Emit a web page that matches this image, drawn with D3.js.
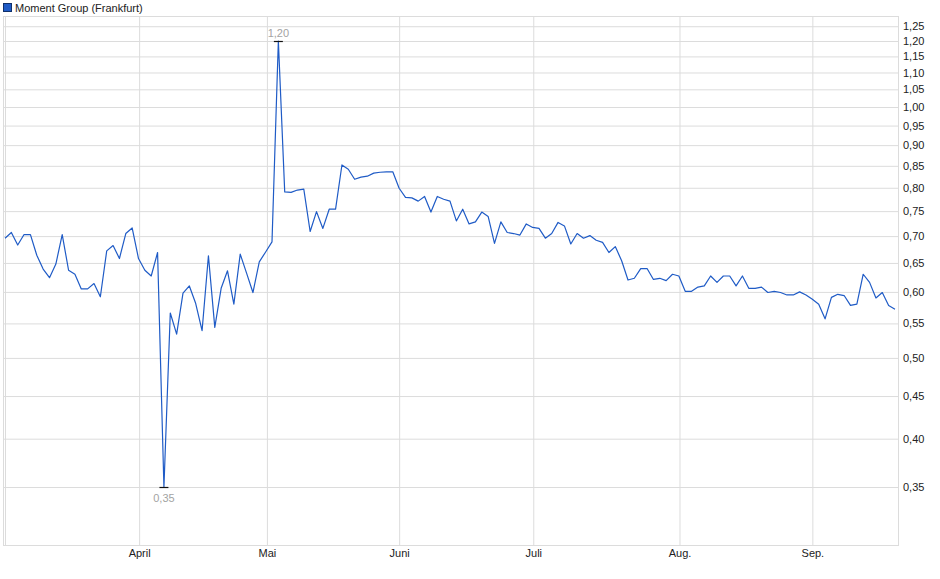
<!DOCTYPE html>
<html>
<head>
<meta charset="utf-8">
<script src="https://cdn.jsdelivr.net/npm/d3@7"></script>
<style>
  body { margin: 0; background: #fff; }
  text { font-family: "Liberation Sans", Arial, sans-serif; font-size: 11px; }
</style>
</head>
<body>
<svg id="chart" width="940" height="579"></svg>
<script>
const title = "Moment Group (Frankfurt)";

// closing prices, one per trading day
const prices = [
  0.696, 0.707, 0.683, 0.703, 0.703, 0.664, 0.639, 0.624, 0.648, 0.703,
  0.637, 0.630, 0.605, 0.605, 0.614, 0.592, 0.672, 0.682, 0.658, 0.705,
  0.716, 0.658, 0.637, 0.627, 0.669, 0.350, 0.566, 0.534, 0.598, 0.610,
  0.581, 0.539, 0.663, 0.544, 0.606, 0.636, 0.580, 0.666, 0.632, 0.599,
  0.652, 0.670, 0.689, 1.200, 0.791, 0.790, 0.795, 0.797, 0.709, 0.749,
  0.715, 0.754, 0.754, 0.852, 0.842, 0.819, 0.824, 0.826, 0.833, 0.835,
  0.836, 0.836, 0.799, 0.779, 0.778, 0.771, 0.781, 0.748, 0.781, 0.775,
  0.771, 0.730, 0.754, 0.724, 0.728, 0.748, 0.739, 0.686, 0.728, 0.707,
  0.705, 0.702, 0.724, 0.717, 0.715, 0.696, 0.705, 0.727, 0.720, 0.685,
  0.705, 0.696, 0.701, 0.692, 0.688, 0.669, 0.680, 0.654, 0.620, 0.623,
  0.640, 0.640, 0.621, 0.623, 0.619, 0.630, 0.627, 0.601, 0.601, 0.608,
  0.610, 0.627, 0.616, 0.627, 0.627, 0.610, 0.627, 0.606, 0.606, 0.608,
  0.599, 0.601, 0.599, 0.595, 0.595, 0.600, 0.595, 0.588, 0.580, 0.557,
  0.591, 0.596, 0.594, 0.578, 0.580, 0.630, 0.616, 0.590, 0.599, 0.578,
  0.572
];

// month starts, as position in trading-day index
const monthLabels = ["April", "Mai", "Juni", "Juli", "Aug.", "Sep."];
const monthPos = [21.1, 41.2, 62.0, 83.1, 106.1, 127.0];

const yTicks = [0.35, 0.40, 0.45, 0.50, 0.55, 0.60, 0.65, 0.70, 0.75, 0.80,
  0.85, 0.90, 0.95, 1.00, 1.05, 1.10, 1.15, 1.20, 1.25];

const frame = { left: 3, right: 898, top: 16, bottom: 545 };
const gridColor = "#dcdcdc";
const lineColor = "#1f5bc6";

const de = d3.formatLocale({ decimal: ",", thousands: ".", grouping: [3], currency: ["", " €"] });
const fmt = de.format(".2f");

const svg = d3.select("#chart");

const x = d3.scaleLinear()
  .domain([0, prices.length - 1])
  .range([5, 895]);

const y = d3.scaleLog()
  .domain([0.2982, 1.2858])
  .range([frame.bottom, frame.top]);

// horizontal grid + right-hand labels
const yAxis = d3.axisRight(y)
  .tickValues(yTicks)
  .tickFormat(fmt)
  .tickSize(-(frame.right - frame.left))
  .tickPadding(5);

svg.append("g")
  .attr("transform", `translate(${frame.right},0)`)
  .call(yAxis)
  .call(g => g.select(".domain").remove())
  .call(g => g.selectAll(".tick line").attr("stroke", gridColor))
  .call(g => g.selectAll(".tick text").attr("fill", "#222").attr("font-size", 11)
    .attr("font-family", "Liberation Sans, Arial, sans-serif"));

// vertical month grid + bottom labels
const xAxis = d3.axisBottom(x)
  .tickValues(monthPos)
  .tickFormat((d, i) => monthLabels[i])
  .tickSize(-(frame.bottom - frame.top))
  .tickPadding(4);

svg.append("g")
  .attr("transform", `translate(0,${frame.bottom})`)
  .call(xAxis)
  .call(g => g.select(".domain").remove())
  .call(g => g.selectAll(".tick line").attr("stroke", gridColor))
  .call(g => g.selectAll(".tick text").attr("fill", "#222").attr("font-size", 11)
    .attr("font-family", "Liberation Sans, Arial, sans-serif"));

// frame
svg.append("rect")
  .attr("x", frame.left + 0.5)
  .attr("y", frame.top + 0.5)
  .attr("width", frame.right - frame.left)
  .attr("height", frame.bottom - frame.top)
  .attr("fill", "none")
  .attr("stroke", gridColor);

svg.append("line")
  .attr("x1", Math.round(x(0)) + 0.5)
  .attr("x2", Math.round(x(0)) + 0.5)
  .attr("y1", frame.top)
  .attr("y2", frame.bottom)
  .attr("stroke", gridColor);

// price line
const line = d3.line()
  .x((d, i) => x(i))
  .y(d => y(d));

svg.append("path")
  .datum(prices)
  .attr("fill", "none")
  .attr("stroke", lineColor)
  .attr("stroke-width", 1.2)
  .attr("stroke-linejoin", "round")
  .attr("d", line);

// high / low markers
const hiIdx = d3.maxIndex(prices);
const loIdx = d3.minIndex(prices);
const marks = [
  { i: hiIdx, v: prices[hiIdx], dy: -5 },
  { i: loIdx, v: prices[loIdx], dy: 14 }
];

marks.forEach(m => {
  const cx = x(m.i);
  const cy = Math.round(y(m.v)) + 0.5;
  svg.append("line")
    .attr("x1", cx - 4.5).attr("x2", cx + 4.5)
    .attr("y1", cy).attr("y2", cy)
    .attr("stroke", "#111")
    .attr("stroke-width", 1.2);
  svg.append("text")
    .attr("x", cx)
    .attr("y", cy + m.dy)
    .attr("text-anchor", "middle")
    .attr("fill", "#a3a3a3")
    .text(fmt(m.v));
});

// legend
svg.append("rect")
  .attr("x", 3.5).attr("y", 3.5)
  .attr("width", 8).attr("height", 8)
  .attr("fill", "#1f5bc6")
  .attr("stroke", "#10306a");

svg.append("text")
  .attr("x", 15)
  .attr("y", 11.5)
  .attr("fill", "#222")
  .text(title);
</script>
</body>
</html>
